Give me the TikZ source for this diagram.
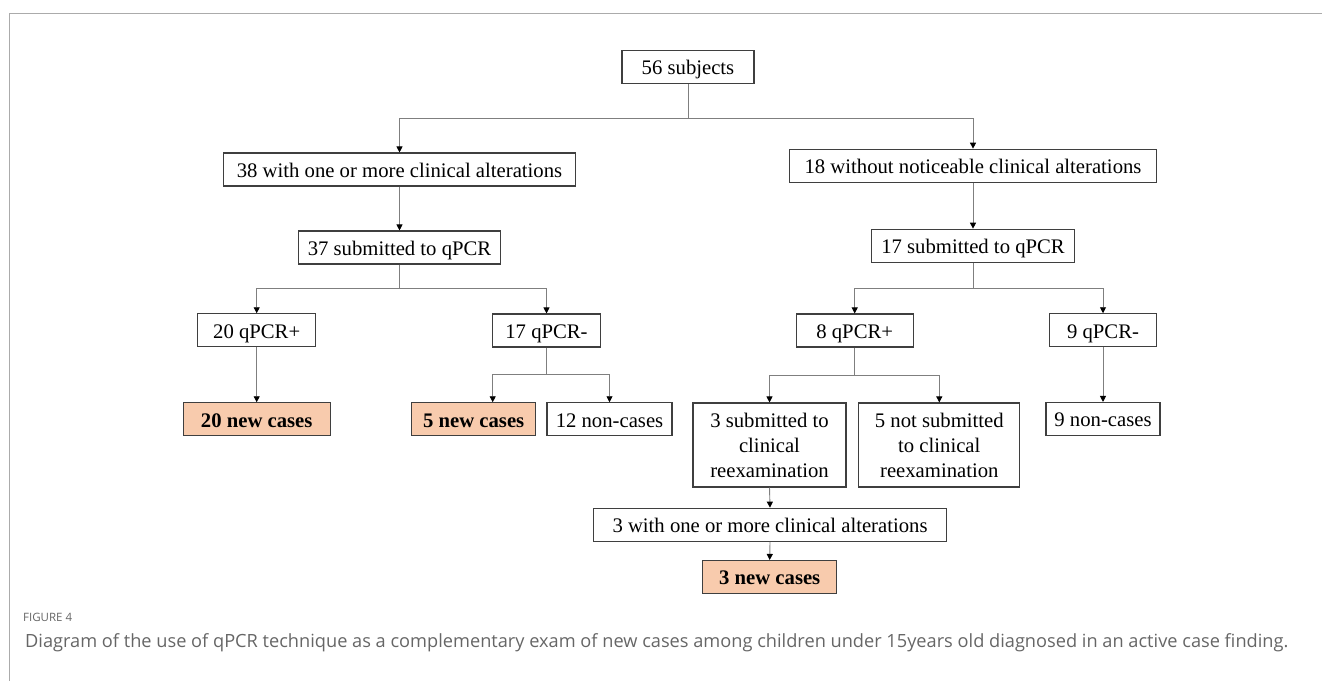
\documentclass[tikz,border=0pt]{standalone}
\usepackage{fontspec}
\setmainfont{Liberation Serif}
\newfontfamily\capfont{Open Sans}
\usetikzlibrary{arrows.meta,calc}
\definecolor{boxc}{HTML}{3F3F3F}
\definecolor{connc}{HTML}{7F7F7F}
\definecolor{peach}{HTML}{F8CBAD}
\definecolor{capc}{HTML}{666666}
\definecolor{framec}{HTML}{ABABAB}
\begin{document}
\begin{tikzpicture}[x=1pt,y=-1pt,
  bx/.style={draw=boxc, line width=1.1pt, inner sep=0pt, minimum height=33pt,
    font=\fontsize{20.7}{25}\selectfont, align=center},
  box/.style={bx, text height=16pt, text depth=0.6pt},
  multi/.style={bx, minimum height=84pt},
  newcase/.style={box, fill=peach, font=\fontsize{20.7}{25}\selectfont\bfseries},
  conn/.style={draw=connc, line width=0.9pt},
  arr/.style={conn, -{Triangle[length=6pt,width=6pt,color=black]}}]
\useasboundingbox (0,0) rectangle (1322,680);
\draw[framec, line width=1.4pt] (9.5,681) -- (9.5,13.3) -- (1323,13.3);

\node[box, minimum width=132pt] (s56) at (688,66.7) {56 subjects};
\node[box, minimum width=352pt] (a38) at (399.5,169.5) {38 with one or more clinical alterations};
\node[box, minimum width=367pt] (a18) at (973,165.7) {18 without noticeable clinical alterations};
\node[box, minimum width=202pt] (q37) at (399.5,247.5) {37 submitted to qPCR};
\node[box, minimum width=203pt] (q17) at (973,245.7) {17 submitted to qPCR};
\node[box, minimum width=118pt] (p20) at (256.7,330.3) {20 qPCR+};
\node[box, minimum width=108pt] (n17) at (546.5,330.5) {17 qPCR-};
\node[box, minimum width=117pt] (p8) at (854.7,330.5) {8 qPCR+};
\node[box, minimum width=107pt] (n9) at (1103,330.3) {9 qPCR-};
\node[newcase, minimum width=147pt] (c20) at (256.7,419.3) {20 new cases};
\node[newcase, minimum width=124pt] (c5) at (473.7,419.3) {5 new cases};
\node[box, minimum width=125pt] (nc12) at (609.5,419.3) {12 non-cases};
\node[multi, minimum width=153pt] (sub3) at (769.5,445) {3 submitted to\\clinical\\reexamination};
\node[multi, minimum width=161pt] (nsub5) at (939.3,445) {5 not submitted\\to clinical\\reexamination};
\node[box, minimum width=114pt] (nc9) at (1103,419) {9 non-cases};
\node[box, minimum width=353pt] (w3) at (770,524.7) {3 with one or more clinical alterations};
\node[newcase, minimum width=134pt] (c3) at (769.7,577) {3 new cases};

\coordinate (j1) at (688,118);
\draw[conn] (s56.south) -- (j1);
\draw[arr] (j1) -| (a38.north);
\draw[arr] (j1) -| (a18.north);
\draw[arr] (a38.south) -- (q37.north);
\draw[arr] (a18.south) -- (q17.north);

\coordinate (j2) at (399.5,288.3);
\draw[conn] (q37.south) -- (j2);
\draw[arr] (j2) -| (p20.north);
\draw[arr] (j2) -| (n17.north);

\coordinate (j3) at (973,288.3);
\draw[conn] (q17.south) -- (j3);
\draw[arr] (j3) -| (p8.north);
\draw[arr] (j3) -| (n9.north);

\draw[arr] (p20.south) -- (c20.north);

\coordinate (j4) at (546.5,374.5);
\draw[conn] (n17.south) -- (j4);
\draw[arr] (j4) -| ([xshift=19pt]c5.north);
\draw[arr] (j4) -| (nc12.north);

\coordinate (j5) at (854.7,375);
\draw[conn] (p8.south) -- (j5);
\draw[arr] (j5) -| (sub3.north);
\draw[arr] (j5) -| (nsub5.north);

\draw[arr] (n9.south) -- (nc9.north);
\draw[arr] (sub3.south) -- (w3.north);
\draw[arr] (w3.south) -- (c3.north);

\node[anchor=base west, inner sep=0pt, text=capc, font=\capfont\fontsize{11.5}{13}\selectfont] (fig) at (23,621) {FIGURE 4};
\node[anchor=base west, inner sep=0pt, text=capc, font=\capfont\fontsize{18.2}{21}\selectfont] (cap) at (25,647) {Diagram of the use of qPCR technique as a complementary exam of new cases among children under 15years old diagnosed in an active case finding.};
\end{tikzpicture}
\end{document}
